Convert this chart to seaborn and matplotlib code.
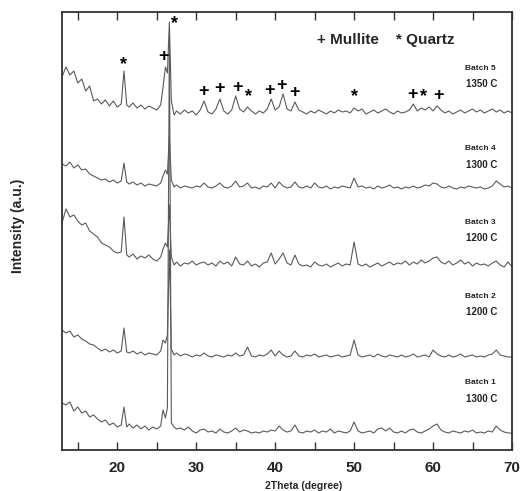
import numpy as np
import pandas as pd
import seaborn as sns
import matplotlib.pyplot as plt
from matplotlib.ticker import MultipleLocator

# 2-theta grid (degrees), denser round the sharp quartz peaks
two_theta = [
    13.0, 13.5, 14.0, 14.5, 15.0, 15.5, 16.0, 16.5, 17.0, 17.5,
    18.0, 18.5, 19.0, 19.5, 20.0, 20.5, 20.85, 21.2, 21.5, 22.0,
    22.5, 23.0, 23.5, 24.0, 24.5, 25.0, 25.5, 25.8, 26.1, 26.35,
    26.6, 26.85, 27.2, 27.5, 28.0, 28.5, 29.0, 29.5, 30.0, 30.5,
    31.0, 31.5, 32.0, 32.5, 33.0, 33.5, 34.0, 34.5, 35.0, 35.5,
    36.0, 36.5, 37.0, 37.5, 38.0, 38.5, 39.0, 39.5, 40.0, 40.5,
    41.0, 41.5, 42.0, 42.5, 43.0, 43.5, 44.0, 44.5, 45.0, 45.5,
    46.0, 46.5, 47.0, 47.5, 48.0, 48.5, 49.0, 49.5, 50.0, 50.5,
    51.0, 51.5, 52.0, 52.5, 53.0, 53.5, 54.0, 54.5, 55.0, 55.5,
    56.0, 56.5, 57.0, 57.5, 58.0, 58.5, 59.0, 59.5, 60.0, 60.5,
    61.0, 61.5, 62.0, 62.5, 63.0, 63.5, 64.0, 64.5, 65.0, 65.5,
    66.0, 66.5, 67.0, 67.5, 68.0, 68.5, 69.0, 69.5, 70.0,
]

# intensities (a.u.), relative to each pattern's baseline
batch1 = [
    30, 28, 31, 22, 26, 20, 22, 16, 18, 14,
    11, 13, 8, 10, 6, 8, 26, 6, 9, 5,
    8, 4, 7, 3, 6, 4, 7, 23, 15, 25,
    395, 10, 6, 4, 5, 3, 6, 2, 0, 3,
    4, 1, 2, 0, 4, 1, 0, 2, 5, 1,
    3, 2, 0, 1, 0, 2, 1, 3, 2, 7,
    3, 1, 2, 8, 1, 0, 2, 1, 3, 0,
    2, 1, 4, 0, 2, 1, 0, 2, 11, 2,
    0, 1, 2, 0, 4, 5, 2, 5, 1, 0,
    2, 0, 3, 4, 1, 0, 2, 4, 7, 9,
    3, 1, 0, 2, 1, 0, 2, 1, 3, 0,
    1, 0, 2, 1, 7, 3, 1, 0, 0,
]
batch2 = [
    27, 24, 26, 20, 22, 18, 16, 13, 12, 9,
    6, 8, 5, 7, 4, 6, 29, 5, 4, 6,
    3, 5, 2, 4, 3, 2, 6, 17, 14, 22,
    107, 8, 2, 4, 1, 3, 2, 0, 2, 1,
    4, 1, 0, 2, 1, 0, 2, 1, 4, 1,
    2, 10, 1, 0, 2, 1, 3, 7, 1, 6,
    2, 0, 1, 6, 1, 0, 2, 1, 3, 0,
    1, 2, 0, 1, 2, 0, 1, 2, 17, 2,
    0, 1, 2, 0, 3, 1, 0, 2, 1, 0,
    2, 0, 1, 3, 0, 1, 2, 0, 7, 3,
    1, 0, 2, 0, 1, 3, 0, 1, 2, 0,
    1, 0, 2, 3, 7, 2, 1, 0, 0,
]
batch3 = [
    44, 58, 50, 52, 46, 42, 44, 36, 33, 30,
    24, 22, 20, 16, 14, 15, 50, 12, 10, 13,
    8, 11, 9, 12, 8, 6, 10, 18, 24, 20,
    62, 10, 2, 5, 1, 4, 3, 6, 2, 4,
    5, 2, 4, 1, 6, 3, 5, 1, 10, 3,
    2, 6, 1, 3, 0, 4, 5, 14, 3, 8,
    14, 4, 2, 12, 3, 1, 2, 0, 5, 2,
    1, 3, 0, 2, 4, 1, 3, 2, 25, 3,
    1, 3, 0, 2, 4, 1, 3, 5, 2, 4,
    3, 6, 2, 5, 3, 7, 4, 6, 9, 10,
    5, 3, 6, 2, 4, 7, 3, 5, 1, 4,
    2, 3, 1, 4, 6, 2, 0, 5, 0,
]
batch4 = [
    24, 22, 26, 20, 23, 18, 19, 14, 12, 10,
    8, 9, 6, 8, 5, 7, 25, 6, 4, 6,
    3, 5, 2, 4, 3, 2, 5, 12, 18, 14,
    52, 8, 1, 3, 0, 2, 1, 0, 2, 1,
    5, 1, 0, 2, 5, 1, 0, 2, 7, 1,
    2, 5, 0, 1, -1, 2, 1, 5, 0, 6,
    2, 0, 1, 6, 1, 0, 2, 0, 5, 1,
    0, 2, -1, 1, 0, 2, 1, 0, 10, 1,
    2, 0, 1, -1, 2, 0, 1, 3, 0, 1,
    -1, 1, 0, 2, 0, 1, 3, 2, 5, 4,
    1, 0, 2, 0, -1, 1, 0, 2, 1, 0,
    1, -1, 0, 2, 7, 4, 1, 2, 0,
]
batch5 = [
    36, 46, 38, 42, 30, 34, 22, 27, 12, 14,
    9, 13, 7, 12, 6, 9, 42, 8, 6, 10,
    5, 8, 4, 7, 5, 3, 8, 26, 46, 40,
    91, 12, -2, 2, -1, 3, 0, 2, -2, 3,
    12, 1, -1, 4, 14, 2, -1, 3, 17, 4,
    1, 6, 2, -1, 2, 0, 4, 14, 3, 6,
    19, 4, 2, 11, 3, 1, -1, 2, 0, 3,
    1, -1, 2, 0, 3, 1, 2, 0, 5, 2,
    4, -1, 1, 3, 0, 2, 4, 1, -1, 2,
    0, 1, 3, 9, 2, 5, 3, 6, 2, 7,
    3, 0, 2, -1, 1, 3, 0, 2, 4, 1,
    3, 0, 2, 4, 1, 3, 0, 2, 0,
]

batches = ["Batch 1", "Batch 2", "Batch 3", "Batch 4", "Batch 5"]
temps = ["1300 C", "1200 C", "1200 C", "1300 C", "1350 C"]
patterns = [batch1, batch2, batch3, batch4, batch5]
offsets = [17, 93, 183, 262, 337]
label_y = [67, 154, 228, 301, 382]

mullite_peaks = [25.8, 30.9, 33.0, 35.2, 39.3, 40.8, 42.4, 57.4, 60.7]
quartz_peaks = [20.8, 36.6, 50.0, 58.8]
quartz_main = 26.6

frames = []
for name, pat, off in zip(batches, patterns, offsets):
    frames.append(pd.DataFrame({"two_theta": two_theta,
                                "intensity": np.array(pat) + off,
                                "batch": name}))
df = pd.concat(frames, ignore_index=True)

sns.set_theme(style="white")
plt.rcParams["font.family"] = ["Liberation Sans", "DejaVu Sans"]

fig = plt.figure(figsize=(5.2, 4.91), dpi=100)
ax = fig.add_axes([62 / 520, 41 / 491, 450 / 520, 438 / 491])

sns.lineplot(data=df, x="two_theta", y="intensity", units="batch",
             estimator=None, sort=False, color="#5a5a5a", lw=0.8, ax=ax)

ax.set_xlim(13, 70)
ax.set_ylim(0, 438)
ax.set_xlabel("")
ax.set_ylabel("")
ax.set_yticks([])
ax.xaxis.set_major_locator(MultipleLocator(10))
ax.xaxis.set_minor_locator(MultipleLocator(5))
ax.tick_params(axis="x", which="both", direction="in", top=True, bottom=True,
               length=6, width=1, color="#333333", pad=8)
for lab in ax.get_xticklabels():
    lab.set_fontweight("bold")
    lab.set_fontsize(11)
for sp in ax.spines.values():
    sp.set_color("#333333")
    sp.set_linewidth(1.3)

# phase markers above the Batch 5 pattern
top = np.array(batch5) + offsets[4]
for peaks, sym in [(mullite_peaks, "+"), (quartz_peaks, "*")]:
    for p in peaks:
        lvl = np.interp([p - 0.3, p, p + 0.3], two_theta, top).max() + 11
        ax.text(p, lvl, sym, ha="center", va="center", fontsize=13,
                fontweight="bold", color="black")
ax.text(quartz_main + 0.25, top.max() - 2, "*", ha="left", va="center",
        fontsize=13, fontweight="bold", color="black")

ax.text(0.567, 0.935, "+ Mullite    * Quartz", transform=ax.transAxes,
        ha="left", va="center", fontsize=11, fontweight="bold")

# batch labels on the right
for name, t, ly in zip(batches, temps, label_y):
    ax.text(64.0, ly, name, ha="left", va="center", fontsize=6,
            fontweight="bold", color="#222222")
    ax.text(64.2, ly - 16, t, ha="left", va="center", fontsize=7,
            fontweight="bold", color="#222222")

fig.text(18 / 520, 1 - 226 / 491, "Intensity (a.u.)", rotation=90,
         ha="center", va="center", fontsize=10, fontweight="bold")
fig.text(304 / 520, 1 - 486 / 491, "2Theta (degree)", ha="center",
         va="center", fontsize=7.5, fontweight="bold")

fig.savefig("out.png", dpi=100)
